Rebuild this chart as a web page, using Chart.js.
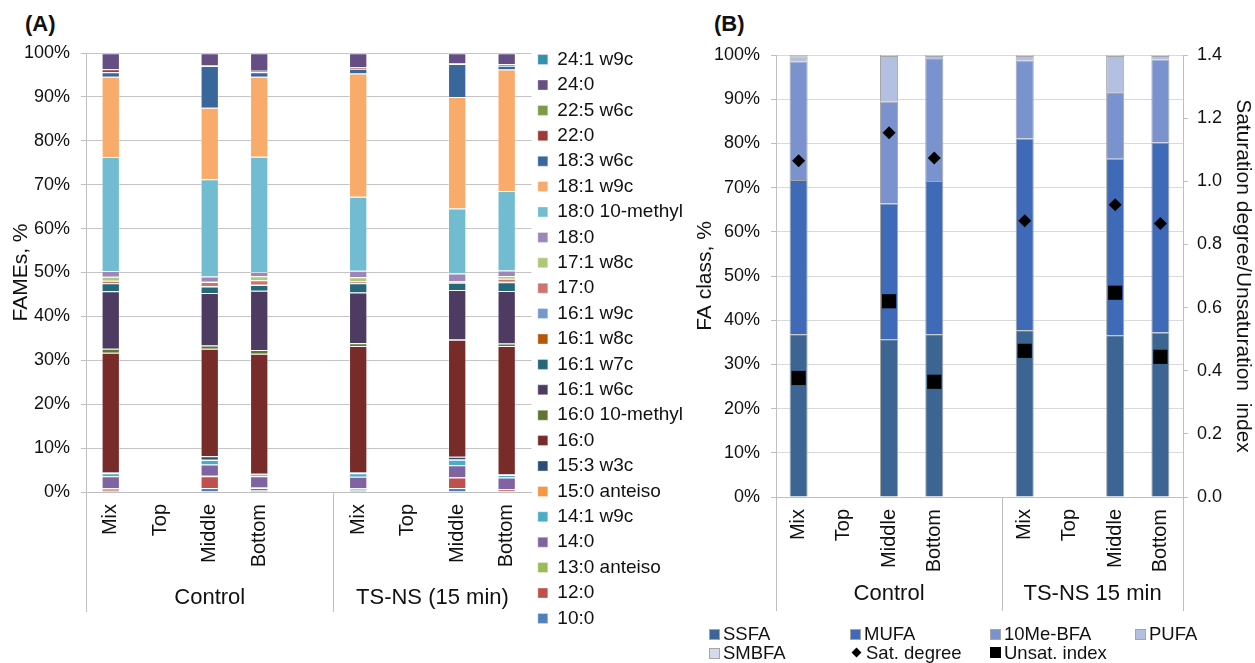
<!DOCTYPE html>
<html>
<head>
<meta charset="utf-8">
<title>FAME profiles and FA classes</title>
<script src="https://cdn.jsdelivr.net/npm/chart.js@4/dist/chart.umd.min.js"></script>
<style>
  html, body { margin: 0; padding: 0; background: #fff; }
  body { width: 1255px; height: 663px; position: relative; overflow: hidden;
         font-family: "Liberation Sans", Arial, sans-serif; color: #111; }
  #wrapA { position: absolute; left: 0; top: 0; width: 693px; height: 663px; }
  #wrapB { position: absolute; left: 690px; top: 0; width: 565px; height: 663px; }
  .tag { position: absolute; font-weight: bold; font-size: 22px; line-height: 22px; }
  .lg { position: absolute; font-size: 18.5px; line-height: 20px; white-space: nowrap; }
  .lg .sw { position: absolute; left: 0; top: 5px; width: 9px; height: 9px; border: 1px solid #A6A6A6; box-sizing: content-box; }
  .lg .dia { position: absolute; left: 1px; top: 6px; width: 7px; height: 7px; background: #000; transform: rotate(45deg); }
  .lg .sq { position: absolute; left: 0; top: 4px; width: 11px; height: 11px; background: #000; }
  .lg span.t { position: absolute; left: 14px; top: 0; }
</style>
</head>
<body>
<div class="tag" style="left:25px;top:13px;">(A)</div>
<div class="tag" style="left:714px;top:13px;">(B)</div>
<div id="wrapA"><canvas id="chartA" width="693" height="663"></canvas></div>
<div id="wrapB"><canvas id="chartB" width="565" height="663"></canvas></div>
<div id="legendB"></div>

<script>
// ---------- categories ----------
const sampleLabels = ['Mix', 'Top', 'Middle', 'Bottom', '', 'Mix', 'Top', 'Middle', 'Bottom'];
const groupNamesA = ['Control', 'TS-NS (15 min)'];
const groupNamesB = ['Control', 'TS-NS 15 min'];
const groupSpans = [[0, 4], [5, 8]];

// ---------- panel A: FAMEs (%), stacked bottom to top ----------
const fameNames = ['10:0', '12:0', '13:0 anteiso', '14:0', '14:1 w9c', '15:0 anteiso', '15:3 w3c',
  '16:0', '16:0 10-methyl', '16:1 w6c', '16:1 w7c', '16:1 w8c', '16:1 w9c', '17:0', '17:1 w8c',
  '18:0', '18:0 10-methyl', '18:1 w9c', '18:3 w6c', '22:0', '22:5 w6c', '24:0', '24:1 w9c'];
const fameColors = ['#4F81BD', '#C0504D', '#9BBB59', '#8064A2', '#4BACC6', '#F79646', '#2C4D75',
  '#772C2A', '#5F7530', '#4D3B62', '#25687A', '#B65708', '#729ACA', '#CD7371', '#AFC97A',
  '#9D87B8', '#71BCD0', '#F9AB6B', '#3A679B', '#9B3A38', '#7F9B48', '#644E84', '#3491AB'];

//                 C-Mix  C-Top C-Mid  C-Bot  gap   T-Mix  T-Top T-Mid  T-Bot
const f10_0     = [0.3,   null, 0.9,   0.4,   null, 0.5,   null, 0.9,   0.2];
const f12_0     = [0.5,   null, 2.7,   0.5,   null, 0.3,   null, 2.4,   0.4];
const f13_0ai   = [0.1,   null, 0.1,   0.1,   null, 0.1,   null, 0.1,   0.1];
const f14_0     = [2.7,   null, 2.6,   2.6,   null, 2.6,   null, 2.7,   2.6];
const f14_1w9   = [0.7,   null, 1.0,   0.4,   null, 0.8,   null, 1.3,   0.6];
const f15_0ai   = [0.05,  null, 0.05,  0.05,  null, 0.05,  null, 0.05,  0.05];
const f15_3w3   = [0.1,   null, 0.8,   0.1,   null, 0.1,   null, 0.6,   0.1];
const f16_0     = [27.3,  null, 24.6,  27.4,  null, 28.9,  null, 26.8,  29.3];
const f16_0me   = [0.9,   null, 0.75,  0.9,   null, 0.6,   null, 0.1,   0.55];
const f16_1w6   = [13.1,  null, 12.0,  13.5,  null, 11.6,  null, 11.3,  12.0];
const f16_1w7   = [1.8,   null, 1.5,   1.3,   null, 2.1,   null, 1.7,   2.0];
const f16_1w8   = [0.05,  null, 0.05,  0.05,  null, 0.05,  null, 0.05,  0.05];
const f16_1w9   = [0.05,  null, 0.05,  0.05,  null, 0.05,  null, 0.05,  0.05];
const f17_0     = [0.5,   null, 0.9,   1.0,   null, 0.3,   null, 0.1,   0.7];
const f17_1w8   = [0.9,   null, 0.1,   0.9,   null, 1.0,   null, 0.1,   0.6];
const f18_0     = [1.3,   null, 1.2,   1.0,   null, 1.5,   null, 1.8,   1.25];
const f18_0me   = [26.0,  null, 22.2,  26.3,  null, 16.9,  null, 14.9,  18.15];
const f18_1w9   = [18.3,  null, 16.4,  18.3,  null, 28.1,  null, 25.5,  27.75];
const f18_3w6   = [1.0,   null, 9.5,   1.0,   null, 1.1,   null, 7.6,   0.85];
const f22_0     = [0.7,   null, 0.1,   0.3,   null, 0.3,   null, 0.1,   0.35];
const f22_5w6   = [0.05,  null, 0.05,  0.05,  null, 0.05,  null, 0.05,  0.05];
const f24_0     = [3.6,   null, 2.8,   4.0,   null, 3.2,   null, 2.3,   2.45];
const f24_1w9   = [0.05,  null, 0.05,  0.05,  null, 0.05,  null, 0.05,  0.05];

// ---------- panel B: FA classes (%) and indices ----------
const classNames = ['SSFA', 'MUFA', '10Me-BFA', 'PUFA', 'SMBFA'];
const classColors = ['#3C6594', '#3E6AB7', '#7A93CE', '#B4C0E1', '#D4DAEE'];
const ssfa    = [36.8, null, 35.7, 36.8, null, 37.7, null, 36.6, 37.2];
const mufa    = [34.9, null, 30.7, 34.7, null, 43.4, null, 39.9, 43.0];
const meBfa   = [26.8, null, 23.0, 27.6, null, 17.6, null, 15.1, 18.8];
const pufa    = [1.2,  null, 10.4, 0.7,  null, 1.1,  null, 8.2,  0.8];
const smbfa   = [0.3,  null, 0.2,  0.2,  null, 0.2,  null, 0.2,  0.2];
const satDegree   = [1.065, null, 1.154, 1.074, null, 0.875, null, 0.926, 0.866];
const unsatIndex  = [0.377, null, 0.620, 0.365, null, 0.463, null, 0.647, 0.444];

// ---------- helpers ----------
const FONT = '"Liberation Sans", Arial, sans-serif';
Chart.defaults.font.family = FONT;
Chart.defaults.color = '#111';

// 100% stacking: each column is scaled to a total of 100
function toPercent(rows) {
  const n = rows[0].length;
  const totals = new Array(n).fill(0);
  rows.forEach(r => r.forEach((v, j) => { if (v != null) totals[j] += v; }));
  return rows.map(r => r.map((v, j) => v == null ? null : v / totals[j] * 100));
}

// Second category level (group names) and the long separator ticks below the axis
function groupAxisPlugin(cfg) {
  return {
    id: 'groupAxis',
    afterDraw(chart) {
      const { ctx, chartArea } = chart;
      const xs = chart.scales.x;
      const half = (xs.getPixelForValue(1) - xs.getPixelForValue(0)) / 2;
      const y0 = chartArea.bottom, y1 = chartArea.bottom + cfg.depth;
      ctx.save();
      ctx.strokeStyle = cfg.lineColor;
      ctx.lineWidth = 1;
      cfg.edges.forEach(i => {
        const px = Math.round(xs.getPixelForValue(i) - half) + 0.5;
        ctx.beginPath(); ctx.moveTo(px, y0); ctx.lineTo(px, y1); ctx.stroke();
      });
      ctx.font = cfg.font;
      ctx.fillStyle = '#111';
      ctx.textAlign = 'center';
      ctx.textBaseline = 'middle';
      cfg.names.forEach((name, k) => {
        const [from, to] = groupSpans[k];
        const a = xs.getPixelForValue(from) - half;
        const b = xs.getPixelForValue(to) + half;
        ctx.fillText(name, (a + b) / 2, y0 + cfg.labelDy);
      });
      ctx.restore();
    }
  };
}

// ---------- chart A ----------
const fameSeries = toPercent([f10_0, f12_0, f13_0ai, f14_0, f14_1w9, f15_0ai, f15_3w3, f16_0, f16_0me,
  f16_1w6, f16_1w7, f16_1w8, f16_1w9, f17_0, f17_1w8, f18_0, f18_0me, f18_1w9, f18_3w6,
  f22_0, f22_5w6, f24_0, f24_1w9]);

new Chart(document.getElementById('chartA'), {
  type: 'bar',
  data: {
    labels: sampleLabels,
    datasets: fameNames.map((name, i) => ({
      label: name,
      data: fameSeries[i],
      backgroundColor: fameColors[i],
      borderColor: 'rgba(255,255,255,0.35)',
      borderWidth: 1,
      barPercentage: 0.37,
      categoryPercentage: 1
    }))
  },
  options: {
    responsive: false,
    animation: false,
    layout: { padding: { top: 15, left: 0, right: 0, bottom: 0 } },
    scales: {
      x: {
        stacked: true,
        grid: { display: false, drawTicks: false },
        border: { display: true, color: '#BFBFBF' },
        ticks: { autoSkip: false, maxRotation: 90, minRotation: 90, padding: 12,
                 font: { size: 20 }, color: '#111' },
        afterFit(s) { s.height = 171; }
      },
      y: {
        stacked: true, min: 0, max: 100,
        ticks: { stepSize: 10, padding: 11, font: { size: 18 }, color: '#111',
                 callback: v => v + '%' },
        grid: { color: '#C4C4C4', tickLength: 5, tickColor: '#BFBFBF' },
        border: { color: '#BFBFBF' },
        title: { display: true, text: 'FAMEs, %', font: { size: 21 }, color: '#111',
                 padding: { top: 9, bottom: 0 } },
        afterFit(s) { s.width = 86; }
      }
    },
    plugins: {
      // empty header band that keeps the plot top clear of the panel tag
      title: { display: true, text: '', padding: 0, font: { size: 10, lineHeight: '38px' } },
      legend: {
        position: 'right', reverse: true,
        labels: { boxWidth: 10, boxHeight: 10, padding: 6.4, font: { size: 19 }, color: '#111' }
      },
      tooltip: { enabled: false }
    }
  },
  plugins: [groupAxisPlugin({ edges: [0, 5], depth: 120, lineColor: '#BFBFBF',
                              names: groupNamesA, font: '22px ' + FONT, labelDy: 106 })]
});

// ---------- chart B ----------
const classSeries = [ssfa, mufa, meBfa, pufa, smbfa];

new Chart(document.getElementById('chartB'), {
  type: 'bar',
  data: {
    labels: sampleLabels,
    datasets: [
      ...classNames.map((name, i) => ({
        type: 'bar', label: name, data: classSeries[i], yAxisID: 'y', stack: 'fa', order: 1,
        backgroundColor: classColors[i], borderColor: '#A6A6A6', borderWidth: 1,
        barPercentage: 0.4, categoryPercentage: 1
      })),
      { type: 'line', label: 'Sat. degree', data: satDegree, yAxisID: 'y2', order: 0,
        showLine: false, pointStyle: 'rectRot', pointRadius: 6.5, pointBackgroundColor: '#000',
        pointBorderColor: '#000', pointBorderWidth: 0 },
      { type: 'line', label: 'Unsat. index', data: unsatIndex, yAxisID: 'y2', order: 0,
        showLine: false, pointStyle: 'rect', pointRadius: 10, pointBackgroundColor: '#000',
        pointBorderColor: '#000', pointBorderWidth: 0 }
    ]
  },
  options: {
    responsive: false,
    animation: false,
    layout: { padding: { top: 55, left: 0, right: 0, bottom: 0 } },
    scales: {
      x: {
        stacked: true,
        grid: { display: false, drawTicks: false },
        border: { display: true, color: '#BFBFBF' },
        ticks: { autoSkip: false, maxRotation: 90, minRotation: 90, padding: 12,
                 font: { size: 20 }, color: '#111' },
        afterFit(s) { s.height = 166; }
      },
      y: {
        stacked: true, min: 0, max: 100, position: 'left',
        ticks: { stepSize: 10, padding: 11, font: { size: 18 }, color: '#111',
                 callback: v => v + '%' },
        grid: { color: '#D9D9D9', tickLength: 5, tickColor: '#BFBFBF' },
        border: { color: '#BFBFBF' },
        title: { display: true, text: 'FA class, %', font: { size: 21 }, color: '#111',
                 padding: { top: 3, bottom: 0 } },
        afterFit(s) { s.width = 86; }
      },
      y2: {
        min: 0, max: 1.4, position: 'right',
        ticks: { stepSize: 0.2, padding: 9, font: { size: 18 }, color: '#111',
                 callback: v => Number(v).toFixed(1) },
        grid: { drawOnChartArea: false, tickLength: 5, tickColor: '#BFBFBF' },
        border: { color: '#BFBFBF' },
        title: { display: true, text: 'Saturation degree/Unsaturation  index', font: { size: 21 },
                 color: '#111', padding: { top: 0, bottom: 0 } },
        afterFit(s) { s.width = 72; }
      }
    },
    plugins: {
      legend: { display: false },
      tooltip: { enabled: false }
    }
  },
  plugins: [groupAxisPlugin({ edges: [0, 5, 9], depth: 114, lineColor: '#BFBFBF',
                              names: groupNamesB, font: '22px ' + FONT, labelDy: 97 })]
});

// ---------- legend B (two rows under the plot) ----------
const legendSlots = [[709, 624], [850, 624], [990, 624], [1135, 624], [709, 643], [852, 643], [990, 643]];
const legendItems = [
  ...classNames.map((name, i) => ({ text: name, kind: 'sw', color: classColors[i] })),
  { text: 'Sat. degree', kind: 'dia' },
  { text: 'Unsat. index', kind: 'sq' }
];
const legendHost = document.getElementById('legendB');
legendItems.forEach((item, i) => {
  const el = document.createElement('div');
  el.className = 'lg';
  el.style.left = legendSlots[i][0] + 'px';
  el.style.top = legendSlots[i][1] + 'px';
  const mark = document.createElement('div');
  mark.className = item.kind;
  if (item.kind === 'sw') mark.style.background = item.color;
  const t = document.createElement('span');
  t.className = 't';
  t.textContent = item.text;
  el.appendChild(mark);
  el.appendChild(t);
  legendHost.appendChild(el);
});
</script>
</body>
</html>
